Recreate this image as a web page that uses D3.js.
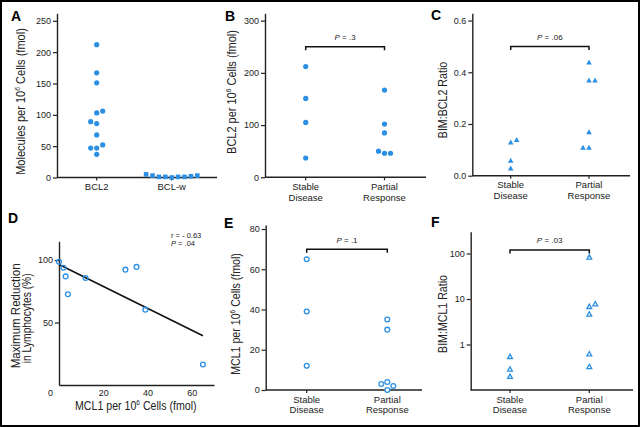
<!DOCTYPE html>
<html><head><meta charset="utf-8">
<script src="https://cdn.jsdelivr.net/npm/d3@7"></script>
<style>html,body{margin:0;padding:0;background:#fff}svg{display:block}</style>
</head><body>
<svg id="c" width="640" height="427"></svg>
<script>
// ---------- data ----------
const catsA = ["BCL2", "BCL-w"];
const bcl2Values = [212, 167, 151, 103, 106, 86, 89, 68, 47, 52, 47, 37];
const bclwValues = [0, 1, 1, 1, 1, 2, 3, 3, 5];
const ticksA = [0, 50, 100, 150, 200, 250];

const catsResp = ["Stable Disease", "Partial Response"];
const catLines = { "Stable Disease": ["Stable", "Disease"], "Partial Response": ["Partial", "Response"] };

const bcl2Stable = [212, 151, 105, 37];
const bcl2Partial = [167, 102, 85, 46, 46, 50];
const ticksB = [0, 100, 200, 300];
const pB = ".3", bracketB = 250;

const ratioBcl2Stable = [0.13, 0.14, 0.06, 0.03];
const ratioBcl2Partial = [0.44, 0.37, 0.37, 0.17, 0.11, 0.11];
const ticksC = [0, 0.2, 0.4, 0.6];
const pC = ".06", bracketC = 0.5;

const mcl1X = [0, 2, 3, 4, 12, 30, 35, 39, 65];
const reductionY = [98.6, 93.8, 86.9, 72.6, 85.6, 92.3, 94.5, 60.3, 16.4];
const ticksDx = [0, 20, 40, 60];
const ticksDy = [50, 100];
const statR = "r = - 0.63", statP = ".04";

const mcl1Stable = [65, 39, 12];
const mcl1Partial = [35, 30, 4, 2, 3, 0];
const ticksE = [0, 20, 40, 60, 80];
const pE = ".1", bracketE = 70;

const ratioMcl1Stable = [0.55, 0.29, 0.2];
const ratioMcl1Partial = [84, 6.9, 7.9, 4.7, 0.63, 0.33];
const ticksF = [1, 10, 100];
const pF = ".03", bracketF = 120;

// ---------- drawing ----------
const blue = "#2b8fe3";
const FONT = "'Liberation Sans', Arial, Helvetica, sans-serif";
const svg = d3.select("#c").style("font-family", FONT);
svg.append("rect").attr("width", 640).attr("height", 427).attr("fill", "#fff");
svg.append("rect").attr("x", 1).attr("y", 1).attr("width", 638).attr("height", 425)
  .attr("fill", "none").attr("stroke", "#000").attr("stroke-width", 2);

function panelLetter(x, y, s) {
  svg.append("text").attr("x", x).attr("y", y).attr("font-size", 14).attr("font-weight", "bold")
    .attr("fill", "#000").text(s);
}

// text with superscript 6 in "10⁶", scaled to a target length
function title(parts, x, y, len, rotate, size) {
  const t = svg.append("text").attr("font-size", size).attr("text-anchor", "middle").attr("fill", "#222");
  parts.forEach(p => {
    if (p.sup) {
      t.append("tspan").attr("font-size", size * 0.62).attr("dy", -size * 0.38).text(p.sup);
      t.append("tspan").attr("dy", size * 0.38).text(p.after || "");
    } else t.append("tspan").text(p.t);
  });
  const w = t.node().getComputedTextLength();
  const sx = len / w;
  t.attr("transform", `translate(${x},${y})${rotate ? " rotate(-90)" : ""} scale(${sx},1)`);
  return t;
}

function yAxis(scale, x, ticks, fmt) {
  const g = svg.append("g").attr("transform", `translate(${x},0)`)
    .call(d3.axisLeft(scale).tickValues(ticks).tickFormat(fmt).tickSize(4).tickSizeOuter(0).tickPadding(2));
  g.select(".domain").attr("stroke", "#222").attr("stroke-width", 1.4);
  g.selectAll(".tick line").attr("stroke", "#222").attr("stroke-width", 1.2);
  g.selectAll(".tick text").attr("font-size", 9).attr("fill", "#222").attr("font-family", FONT);
  return g;
}

function catXAxis(xs, x0, x1, y, labelsFor) {
  const g = svg.append("g");
  g.append("line").attr("x1", x0).attr("x2", x1).attr("y1", y).attr("y2", y)
    .attr("stroke", "#222").attr("stroke-width", 1.4);
  xs.domain().forEach(c => {
    const cx = xs(c);
    g.append("line").attr("x1", cx).attr("x2", cx).attr("y1", y).attr("y2", y + 3)
      .attr("stroke", "#222").attr("stroke-width", 1.2);
    labelsFor(c).forEach((ln, i) => {
      g.append("text").attr("x", cx).attr("y", y + 12.5 + i * 10.7).attr("text-anchor", "middle")
        .attr("font-size", 9.5).attr("fill", "#222").text(ln);
    });
  });
}

function layoutColumn(values, y, minDist) {
  const placed = []; let side = 1;
  return values.map(v => {
    const py = y(v);
    const cands = [0];
    for (let k = 1; k < 12; k++) cands.push(k * side, -k * side);
    const slot = cands.find(s => !placed.some(p => p.slot === s && Math.abs(p.py - py) < minDist));
    placed.push({ slot, py });
    if (slot !== 0) side = -side;
    return { v, py, slot };
  });
}

function drawMarks(values, cx, y, step, kind) {
  const pts = layoutColumn(values, y, 5);
  pts.forEach(p => {
    const x = cx + p.slot * step, yy = p.py;
    if (kind === "dot") {
      svg.append("circle").attr("cx", x).attr("cy", yy).attr("r", 2.6).attr("fill", blue);
    } else if (kind === "square") {
      svg.append("rect").attr("x", x - 2.3).attr("y", yy - 2.3).attr("width", 4.6).attr("height", 4.6).attr("fill", blue);
    } else if (kind === "ring") {
      svg.append("circle").attr("cx", x).attr("cy", yy).attr("r", 2.4).attr("fill", "#fff")
        .attr("stroke", blue).attr("stroke-width", 1.3);
    } else if (kind === "tri" || kind === "otri") {
      const s = kind === "tri" ? 5.6 : 4.8, h = s * 0.9;
      const path = `M${x},${yy - h / 2}L${x + s / 2},${yy + h / 2}L${x - s / 2},${yy + h / 2}Z`;
      const el = svg.append("path").attr("d", path);
      if (kind === "tri") el.attr("fill", blue);
      else el.attr("fill", "#fff").attr("stroke", blue).attr("stroke-width", 1.3).attr("stroke-linejoin", "miter");
    }
  });
}

function bracket(xs, yv, pText, textY) {
  const a = xs.range()[0], b = xs.range()[1];
  svg.append("path").attr("d", `M${a},${yv + 3.5}V${yv}H${b}V${yv + 3.5}`)
    .attr("fill", "none").attr("stroke", "#111").attr("stroke-width", 1.5);
  const t = svg.append("text").attr("x", (a + b) / 2).attr("y", textY).attr("text-anchor", "middle")
    .attr("font-size", 8).attr("fill", "#222");
  t.append("tspan").attr("font-style", "italic").text("P");
  t.append("tspan").text(" = " + pText);
}

// ----- Panel A -----
const yA = d3.scaleLinear().domain([0, 262]).range([177.5, 13.3]);
const xA = d3.scalePoint().domain(catsA).range([96.7, 171.7]);
yAxis(yA, 57, ticksA, d3.format("d"));
catXAxis(xA, 57, 217, 177.5, c => [c]);
drawMarks(bcl2Values, xA("BCL2"), yA, 6, "dot");
drawMarks(bclwValues, xA("BCL-w"), yA, 6.4, "square");
panelLetter(11, 20.5, "A");
title([{ t: "Molecules per 10" }, { sup: "6", after: " Cells (fmol)" }], 24.5, 101.5, 147, true, 13);

// ----- Panel B -----
const yB = d3.scaleLinear().domain([0, 314]).range([177.3, 13.3]);
const xB = d3.scalePoint().domain(catsResp).range([305.7, 384.5]);
yAxis(yB, 265, ticksB, d3.format("d"));
catXAxis(xB, 265, 426, 177.3, c => catLines[c]);
drawMarks(bcl2Stable, xB("Stable Disease"), yB, 6, "dot");
drawMarks(bcl2Partial, xB("Partial Response"), yB, 6, "dot");
bracket(xB, yB(bracketB), pB, 40);
panelLetter(225, 20.5, "B");
title([{ t: "BCL2 per 10" }, { sup: "6", after: " Cells (fmol)" }], 236, 92, 124, true, 13);

// ----- Panel C -----
const yC = d3.scaleLinear().domain([0, 0.628]).range([175.7, 13.3]);
const xC = d3.scalePoint().domain(catsResp).range([510.7, 589]);
yAxis(yC, 472.3, ticksC, d3.format(".1f"));
catXAxis(xC, 472.3, 630, 175.7, c => catLines[c]);
drawMarks(ratioBcl2Stable, xC("Stable Disease"), yC, 6, "tri");
drawMarks(ratioBcl2Partial, xC("Partial Response"), yC, 6, "tri");
bracket(xC, yC(bracketC), pC, 39.5);
panelLetter(431, 20, "C");
title([{ t: "BIM:BCL2 Ratio" }], 446.5, 100, 76.6, true, 13);

// ----- Panel D -----
const xD = d3.scaleLinear().domain([0, 70]).range([59, 214]);
const yD = d3.scaleLinear().domain([0, 115]).range([385, 241.3]);
yAxis(yD, 59, ticksDy, d3.format("d"));
const gDx = svg.append("g").attr("transform", "translate(0,385)")
  .call(d3.axisBottom(xD).tickValues(ticksDx).tickSize(0).tickSizeOuter(0).tickPadding(5));
gDx.select(".domain").attr("stroke", "#222").attr("stroke-width", 1.4);
gDx.selectAll(".tick text").attr("font-size", 9).attr("fill", "#222").attr("font-family", FONT)
  .attr("dx", d => d === 0 ? -9 : 0);
// least-squares fit
const mx = d3.mean(mcl1X), my = d3.mean(reductionY);
const slope = d3.sum(mcl1X, (x, i) => (x - mx) * (reductionY[i] - my)) / d3.sum(mcl1X, x => (x - mx) ** 2);
const icpt = my - slope * mx;
const [xmin, xmax] = d3.extent(mcl1X);
svg.append("line").attr("x1", xD(xmin)).attr("y1", yD(icpt + slope * xmin))
  .attr("x2", xD(xmax)).attr("y2", yD(icpt + slope * xmax)).attr("stroke", "#111").attr("stroke-width", 1.6);
svg.selectAll(".dpt").data(mcl1X).enter().append("circle")
  .attr("cx", d => xD(d)).attr("cy", (d, i) => yD(reductionY[i])).attr("r", 2.4)
  .attr("fill", "none").attr("stroke", blue).attr("stroke-width", 1.3);
svg.append("text").attr("x", 171).attr("y", 238).attr("font-size", 7.5).attr("fill", "#222").text(statR);
const tp = svg.append("text").attr("x", 171).attr("y", 246).attr("font-size", 7.5).attr("fill", "#222");
tp.append("tspan").attr("font-style", "italic").text("P");
tp.append("tspan").text(" = " + statP);
panelLetter(8, 223, "D");
title([{ t: "Maximum Reduction" }], 20, 315.8, 105, true, 13);
title([{ t: "in Lymphocytes (%)" }], 31, 318.3, 90, true, 13);
title([{ t: "MCL1 per 10" }, { sup: "6", after: " Cells (fmol)" }], 135.8, 410, 121.7, false, 13);

// ----- Panel E -----
const yE = d3.scaleLinear().domain([0, 82]).range([390, 225]);
const xE = d3.scalePoint().domain(catsResp).range([306.7, 387.3]);
yAxis(yE, 265.7, ticksE, d3.format("d"));
catXAxis(xE, 265.7, 422, 390, c => catLines[c]);
drawMarks(mcl1Stable, xE("Stable Disease"), yE, 6, "ring");
drawMarks(mcl1Partial, xE("Partial Response"), yE, 6, "ring");
bracket(xE, yE(bracketE), pE, 243);
panelLetter(224, 228, "E");
title([{ t: "MCL1 per 10" }, { sup: "6", after: " Cells (fmol)" }], 239.5, 314, 121.7, true, 13);

// ----- Panel F -----
const yF = d3.scaleLog().domain([0.1, 300]).range([390, 231.8]);
const xF = d3.scalePoint().domain(catsResp).range([510, 589.3]);
yAxis(yF, 470.7, ticksF, d3.format("d"));
catXAxis(xF, 470.7, 633, 390, c => catLines[c]);
drawMarks(ratioMcl1Stable, xF("Stable Disease"), yF, 6, "otri");
drawMarks(ratioMcl1Partial, xF("Partial Response"), yF, 6, "otri");
bracket(xF, yF(bracketF), pF, 243);
panelLetter(431, 227, "F");
title([{ t: "BIM:MCL1 Ratio" }], 446.5, 314, 78, true, 13);
</script>
</body></html>
